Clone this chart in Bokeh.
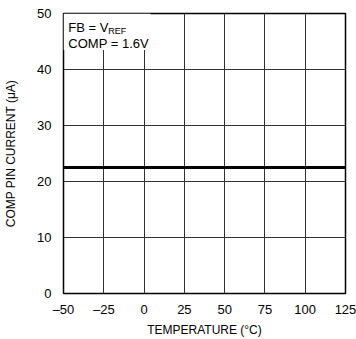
from bokeh.plotting import figure
from bokeh.models import FixedTicker, Label, BoxAnnotation, Range1d
from bokeh.embed import file_html
from bokeh.resources import INLINE

temperature = [-50, -25, 0, 25, 50, 75, 100, 125]
comp_current = [22.5, 22.5, 22.5, 22.5, 22.5, 22.5, 22.5, 22.5]
x_ticks = [-50, -25, 0, 25, 50, 75, 100, 125]
x_tick_labels = ["–50", "–25", "0", "25", "50", "75", "100", "125"]
y_ticks = [0, 10, 20, 30, 40, 50]

FONT = "Liberation Sans"

p = figure(width=356, height=339, output_backend="svg", toolbar_location=None,
           x_range=Range1d(-50, 125), y_range=Range1d(0, 50),
           min_border_left=63, min_border_right=11, min_border_top=13, min_border_bottom=46)
p.background_fill_color = "white"
p.border_fill_color = "white"
p.outline_line_color = "black"
p.outline_line_width = 1.5

for ax in (p.xaxis[0], p.yaxis[0]):
    ax.major_tick_line_color = None
    ax.minor_tick_line_color = None
    ax.axis_line_color = None
    ax.major_label_text_font = FONT
    ax.major_label_text_font_size = "13px"
    ax.major_label_text_color = "black"
    ax.axis_label_text_font = FONT
    ax.axis_label_text_font_size = "12px"
    ax.axis_label_text_font_style = "normal"
    ax.axis_label_text_color = "black"

p.xaxis.ticker = FixedTicker(ticks=x_ticks)
p.xaxis.major_label_overrides = {t: s for t, s in zip(x_ticks, x_tick_labels)}
p.yaxis.ticker = FixedTicker(ticks=y_ticks)
p.xaxis.major_label_standoff = 2
p.yaxis.major_label_standoff = 6
p.xaxis.axis_label = "TEMPERATURE (°C)"
p.yaxis.axis_label = "COMP PIN CURRENT (μA)"
p.xaxis.axis_label_standoff = 3
p.yaxis.axis_label_standoff = 16

p.grid.grid_line_color = "#333333"
p.grid.grid_line_width = 1
p.xgrid.ticker = FixedTicker(ticks=x_ticks)
p.ygrid.ticker = FixedTicker(ticks=y_ticks)

p.line(temperature, comp_current, line_color="black", line_width=3)

p.add_layout(BoxAnnotation(left=-50, right=4, top=50, bottom=43.5,
                           fill_color="white", fill_alpha=1.0, line_color=None))
p.add_layout(Label(x=-47, y=48.9, text="FB = V", text_font=FONT, text_font_size="13px",
                   text_baseline="top", text_color="black"))
p.add_layout(Label(x=-22.2, y=47.8, text="REF", text_font=FONT, text_font_size="9px",
                   text_baseline="top", text_color="black"))
p.add_layout(Label(x=-47, y=46.0, text="COMP = 1.6V", text_font=FONT, text_font_size="13px",
                   text_baseline="top", text_color="black"))

open("out.html", "w").write(file_html(p, INLINE))
